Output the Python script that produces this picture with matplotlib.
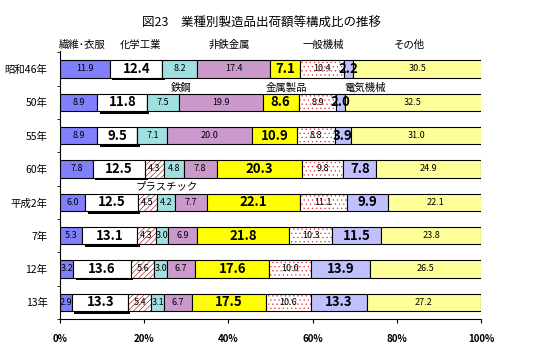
import matplotlib
matplotlib.use('Agg')
import matplotlib.pyplot as plt
import matplotlib.patheffects as pe
import numpy as np

plt.rcParams['font.family'] = ['Noto Sans CJK JP', 'DejaVu Sans']
plt.rcParams['hatch.linewidth'] = 0.4

# data
years = ['昭和46年', '50年', '55年', '60年', '平成2年', '7年', '12年', '13年']
series = ['繊維･衣服', '化学工業', 'プラスチック', '鉄鋼', '非鉄金属', '金属製品', '一般機械', '電気機械', 'その他']
values = [
    [11.9, 8.9, 8.9, 7.8, 6.0, 5.3, 3.2, 2.9],
    [12.4, 11.8, 9.5, 12.5, 12.5, 13.1, 13.6, 13.3],
    [0.0, 0.0, 0.0, 4.3, 4.5, 4.3, 5.6, 5.4],
    [8.2, 7.5, 7.1, 4.8, 4.2, 3.0, 3.0, 3.1],
    [17.4, 19.9, 20.0, 7.8, 7.7, 6.9, 6.7, 6.7],
    [7.1, 8.6, 10.9, 20.3, 22.1, 21.8, 17.6, 17.5],
    [10.4, 8.9, 8.8, 9.8, 11.1, 10.3, 10.0, 10.6],
    [2.2, 2.0, 3.9, 7.8, 9.9, 11.5, 13.9, 13.3],
    [30.5, 32.5, 31.0, 24.9, 22.1, 23.8, 26.5, 27.2],
]
ticks = [0, 20, 40, 60, 80, 100]
tick_labels = ['0%', '20%', '40%', '60%', '80%', '100%']

# styles
colors = ['#8080FF', 'white', 'white', '#A0E0E0', '#CC99CC', '#FFFF00', 'white', '#C0C0FF', '#FFFF99']
hatches = [None, None, '//////', None, None, None, '....', None, None]
hatch_colors = [None, None, '#A00000', None, None, None, '#E03030', None, None]
bold = [False, True, False, False, False, True, False, True, False]

# category label placement (x in %, y in row units)
top_labels = [('繊維･衣服', 5.2, -0.72), ('化学工業', 19.0, -0.72), ('非鉄金属', 40.1, -0.72),
              ('一般機械', 62.5, -0.72), ('その他', 83.1, -0.72)]
mid_labels = [('鉄鋼', 28.7, 0.57), ('金属製品', 53.7, 0.57), ('電気機械', 72.4, 0.57),
              ('プラスチック', 25.4, 3.52)]

fig = plt.figure(figsize=(5.33, 3.5), dpi=100)
ax = fig.add_axes([0.1126, 0.0886, 0.79, 0.766])

rows = np.arange(len(years))
left = np.zeros(len(years))
h = 0.52
for i, name in enumerate(series):
    v = np.array(values[i])
    if hatches[i]:
        ax.barh(rows, v, left=left, height=h, color=colors[i], edgecolor=hatch_colors[i],
                hatch=hatches[i], linewidth=0)
        ax.barh(rows, v, left=left, height=h, color='none', edgecolor='black', linewidth=0.8)
    else:
        bars = ax.barh(rows, v, left=left, height=h, color=colors[i], edgecolor='black', linewidth=0.8)
        if i == 1:
            for b in bars:
                b.set_path_effects([pe.SimplePatchShadow(offset=(1.6, -2.0), shadow_rgbFace='black', alpha=1.0),
                                    pe.Normal()])
    for r in rows:
        if v[r] <= 0:
            continue
        if bold[i]:
            ax.text(left[r] + v[r] / 2, r, f'{v[r]:.1f}', ha='center', va='center',
                    fontsize=9.5, fontweight='bold')
        else:
            ax.text(left[r] + v[r] / 2, r, f'{v[r]:.1f}', ha='center', va='center', fontsize=6.5)
    left += v

for txt, x, y in top_labels + mid_labels:
    ax.text(x, y, txt, ha='center', va='center', fontsize=7.5)

ax.set_xlim(0, 100)
ax.set_ylim(7.45, -0.54)
ax.set_xticks(ticks)
ax.set_xticklabels(tick_labels, fontsize=7, fontweight='bold')
ax.set_yticks(rows)
ax.set_yticklabels(years, fontsize=7.5)
ax.set_yticks(np.arange(-0.5, 8, 1), minor=True)
ax.tick_params(axis='y', which='major', length=0, pad=9)
ax.tick_params(axis='y', which='minor', length=2)
ax.tick_params(axis='x', length=3, pad=8)
ax.spines['top'].set_visible(False)
ax.spines['right'].set_visible(False)

fig.text(0.49, 0.935, '図23\u3000業種別製造品出荷額等構成比の推移', ha='center', va='center', fontsize=9)

fig.savefig('out.png', dpi=100)
